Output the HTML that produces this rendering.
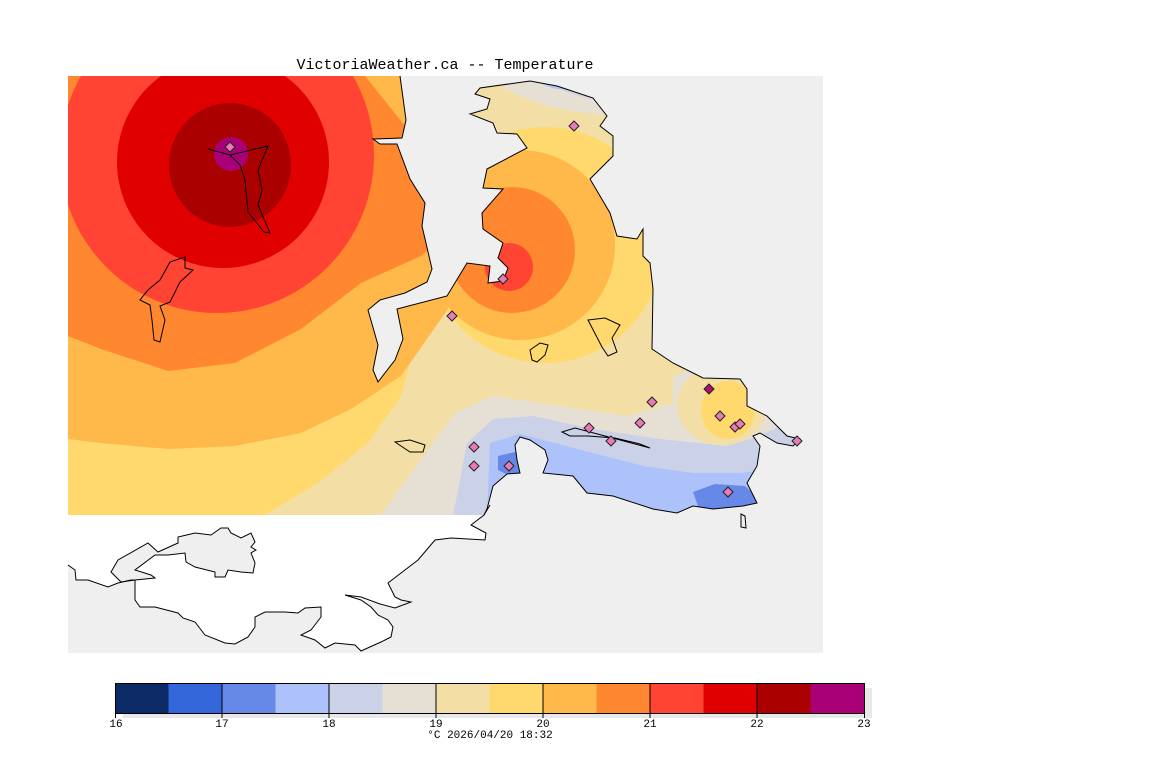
<!DOCTYPE html>
<html><head><meta charset="utf-8"><style>
body{margin:0;background:#fff;width:1152px;height:768px;overflow:hidden}
svg{display:block}
text{font-family:"Liberation Mono",monospace}
</style></head><body>
<svg width="1152" height="768" viewBox="0 0 1152 768">
<defs>
<clipPath id="mask"><polygon points="68,76 400,76 406,120 402,138 373,139 380,144 397,144 410,179 425,203 422,226 432,269 427,282 405,293 380,300 368,310 378,345 373,370 378,382 395,360 403,339 397,309 447,296 467,263 490,266 488,283 503,281 508,268 498,258 503,243 483,229 482,213 503,189 483,188 487,169 527,148 517,134 497,133 493,123 470,114 487,109 490,99 475,94 480,88 530,81 557,86 593,98 607,116 600,126 613,136 613,156 590,179 610,213 617,236 637,239 643,229 643,256 650,263 653,289 652,349 673,363 703,378 740,379 747,389 747,406 767,416 787,436 800,439 793,446 777,443 760,433 753,436 760,446 757,466 747,483 757,503 743,506 713,509 693,506 677,513 653,509 613,496 587,493 573,476 543,473 548,460 545,450 530,440 520,437 515,445 517,460 520,473 507,474 493,486 487,509 484,515 68,515"/></clipPath>
</defs>
<rect x="68" y="76" width="755" height="577" fill="#efefef"/>
<polygon points="68,515 484,515 471,525 486,533 485,540 451,538 435,540 418,560 401,573 388,583 395,597 401,600 395,608 380,604 361,600 371,607 378,615 388,620 393,627 391,637 381,642 361,651 355,645 335,643 325,648 315,640 301,635 311,630 321,617 321,607 305,608 298,613 285,612 265,612 255,617 255,627 248,637 235,644 225,643 205,635 195,622 183,618 178,613 155,607 148,607 140,607 135,600 135,593 135,580 131,580 118,583 108,587 88,580 76,580 75,570 68,565" fill="#fff"/>
<polygon points="111,572 118,560 148,543 158,552 178,543 178,537 195,533 211,535 221,528 228,528 231,533 241,538 251,533 255,542 251,547 256,550 251,553 255,563 253,573 241,572 228,570 225,577 215,577 215,572 195,567 186,562 185,553 168,555 155,555 135,570 151,575 155,578 135,580 121,582" fill="#efefef" stroke="#000" stroke-width="1"/>
<polyline fill="none" stroke="#000" points="68,565 75,570 76,580 88,580 108,587 118,583 131,580 135,580 135,593 135,600 140,607 148,607 155,607 178,613 183,618 195,622 205,635 225,643 235,644 248,637 255,627 255,617 265,612 285,612 298,613 305,608 321,607 321,617 311,630 301,635 315,640 325,648 335,643 355,645 361,651 381,642 391,637 393,627 388,620 378,615 371,607 361,600 345,595 361,597 380,604 395,608 411,602 401,600 395,597 388,583 401,573 418,560 435,540 451,538 485,540 486,533 471,525 484,515 490,505"/>
<g clip-path="url(#mask)">
<rect x="68" y="76" width="755" height="440" fill="#f3dfa5"/>
<polygon points="380,516 455,413 493,396 560,406 627,416 673,403 673,376 693,369 760,400 800,430 800,516" fill="#e6dfd3"/>
<polygon points="453,516 467,443 493,419 533,416 593,429 660,439 727,446 760,436 780,426 810,440 810,516" fill="#cbd1e6"/>
<polygon points="487,516 490,443 520,434 593,453 643,466 693,473 740,473 765,470 770,516" fill="#adc2fa"/>
<polygon points="498,456 515,452 532,458 533,474 510,476 498,470" fill="#6688e6"/>
<polygon points="693,492 715,484 745,486 760,500 757,512 700,512" fill="#6688e6"/>
<ellipse cx="722" cy="405" rx="45" ry="40" fill="#f3dfa5"/>
<ellipse cx="728" cy="410" rx="27" ry="29" fill="#ffd96e"/>
<ellipse cx="620" cy="40" rx="150" ry="75" fill="#e6dfd3"/>
<ellipse cx="625" cy="40" rx="105" ry="62" fill="#cbd1e6"/>
<ellipse cx="570" cy="74" rx="35" ry="16" fill="#adc2fa"/>
<polygon points="68,515 265,515 318,483 368,443 401,396 415,343 435,316 453,309 445,76 68,76" fill="#ffd96e"/>
<circle cx="545" cy="245" r="118" fill="#ffd96e"/>
<polygon points="68,439 101,443 168,449 235,446 301,433 351,409 401,376 448,309 445,76 68,76" fill="#ffb84a"/>
<circle cx="520" cy="245" r="95" fill="#ffb84a"/>
<polygon points="68,336 101,349 168,371 235,363 301,329 361,283 421,256 440,240 430,200 405,126 365,76 68,76" fill="#ff8730"/>
<circle cx="512" cy="250" r="63" fill="#ff8730"/>
<circle cx="509" cy="267" r="24" fill="#ff4433"/>
<ellipse cx="217" cy="155" rx="157" ry="158" fill="#ff4433"/>
<circle cx="223" cy="162" r="106" fill="#e00000"/>
<ellipse cx="230" cy="165" rx="61" ry="62" fill="#aa0000"/>
<circle cx="231" cy="154" r="17" fill="#aa0077"/>
</g>
<g fill="none" stroke="#000" stroke-width="1">
<polyline points="400,76 406,120 402,138 373,139 380,144 397,144 410,179 425,203 422,226 432,269 427,282 405,293 380,300 368,310 378,345 373,370 378,382 395,360 403,339 397,309 447,296 467,263 490,266 488,283 503,281 508,268 498,258 503,243 483,229 482,213 503,189 483,188 487,169 527,148 517,134 497,133 493,123 470,114 487,109 490,99 475,94 480,88 530,81 557,86 593,98 607,116 600,126 613,136 613,156 590,179 610,213 617,236 637,239 643,229 643,256 650,263 653,289 652,349 673,363 703,378 740,379 747,389 747,406 767,416 787,436 800,439 793,446 777,443 760,433 753,436 760,446 757,466 747,483 757,503 743,506 713,509 693,506 677,513 653,509 613,496 587,493 573,476 543,473 548,460 545,450 530,440 520,437 515,445 517,460 520,473 507,474 493,486 487,509 484,515"/>
<polygon points="741,514 745,516 746,528 741,527"/>
<path d="M562,432 L575,428 L590,432 L620,440 L650,448 L640,444 L615,438 L588,436 L570,436 Z"/>
<path d="M208,149 L230,155 L268,146 L258,170 L262,190 L258,205 L270,233 L264,232 L248,212 L245,180 L240,165 L230,155"/>
<path d="M185,257 L185,268 L193,270 L180,282 L175,292 L170,302 L160,306 L165,320 L160,342 L154,340 L152,320 L150,305 L140,300 L148,290 L160,280 L170,262 Z"/>
<path d="M530,350 L540,343 L548,345 L545,355 L537,362 L532,360 Z"/>
<path d="M588,320 L605,318 L620,325 L612,338 L617,352 L608,356 L602,347 Z"/>
<path d="M395,442 L410,440 L425,445 L423,452 L410,452 Z"/>
</g>
<g fill="#e87ab8" stroke="#222" stroke-width="1">
<path d="M230,142l5,5l-5,5l-5,-5z"/><path d="M574,121l5,5l-5,5l-5,-5z"/>
<path d="M503,274l5,5l-5,5l-5,-5z"/><path d="M452,311l5,5l-5,5l-5,-5z"/>
<path d="M709,384l5,5l-5,5l-5,-5z" fill="#b01070"/><path d="M652,397l5,5l-5,5l-5,-5z"/>
<path d="M720,411l5,5l-5,5l-5,-5z"/><path d="M735,422l5,5l-5,5l-5,-5z"/>
<path d="M740,419l5,5l-5,5l-5,-5z"/><path d="M640,418l5,5l-5,5l-5,-5z"/>
<path d="M589,423l5,5l-5,5l-5,-5z"/><path d="M611,436l5,5l-5,5l-5,-5z"/>
<path d="M474,442l5,5l-5,5l-5,-5z"/><path d="M474,461l5,5l-5,5l-5,-5z"/>
<path d="M509,461l5,5l-5,5l-5,-5z"/><path d="M728,487l5,5l-5,5l-5,-5z"/>
<path d="M797,436l5,5l-5,5l-5,-5z"/>
</g>
<text x="445" y="69" font-size="15" text-anchor="middle" fill="#000">VictoriaWeather.ca -- Temperature</text>
<rect x="123" y="688" width="749" height="30" fill="#e8e8e8"/>
<g stroke="none">
<rect x="115" y="683" width="53.5" height="30" fill="#0c2a66"/>
<rect x="168.5" y="683" width="53.5" height="30" fill="#3366d9"/>
<rect x="222" y="683" width="53.5" height="30" fill="#6688e6"/>
<rect x="275.5" y="683" width="53.5" height="30" fill="#adc2fa"/>
<rect x="329" y="683" width="53.5" height="30" fill="#cbd1e6"/>
<rect x="382.5" y="683" width="53.5" height="30" fill="#e6dfd3"/>
<rect x="436" y="683" width="53.5" height="30" fill="#f3dfa5"/>
<rect x="489.5" y="683" width="53.5" height="30" fill="#ffd96e"/>
<rect x="543" y="683" width="53.5" height="30" fill="#ffb84a"/>
<rect x="596.5" y="683" width="53.5" height="30" fill="#ff8730"/>
<rect x="650" y="683" width="53.5" height="30" fill="#ff4433"/>
<rect x="703.5" y="683" width="53.5" height="30" fill="#e00000"/>
<rect x="757" y="683" width="53.5" height="30" fill="#aa0000"/>
<rect x="810.5" y="683" width="53.5" height="30" fill="#aa0077"/>
</g>
<rect x="115.5" y="683.5" width="749" height="30" fill="none" stroke="#000"/>
<g stroke="#000"><line x1="222" y1="683" x2="222" y2="718"/><line x1="329" y1="683" x2="329" y2="718"/><line x1="436" y1="683" x2="436" y2="718"/><line x1="543" y1="683" x2="543" y2="718"/><line x1="650" y1="683" x2="650" y2="718"/><line x1="757" y1="683" x2="757" y2="718"/><line x1="115.5" y1="713" x2="115.5" y2="718"/><line x1="864.5" y1="713" x2="864.5" y2="718"/></g>
<g font-size="11" text-anchor="middle" fill="#000">
<text x="116" y="727">16</text><text x="222" y="727">17</text><text x="329" y="727">18</text><text x="436" y="727">19</text><text x="543" y="727">20</text><text x="650" y="727">21</text><text x="757" y="727">22</text><text x="864" y="727">23</text>
<text x="490" y="738">°C  2026/04/20 18:32</text>
</g>
</svg>
</body></html>
